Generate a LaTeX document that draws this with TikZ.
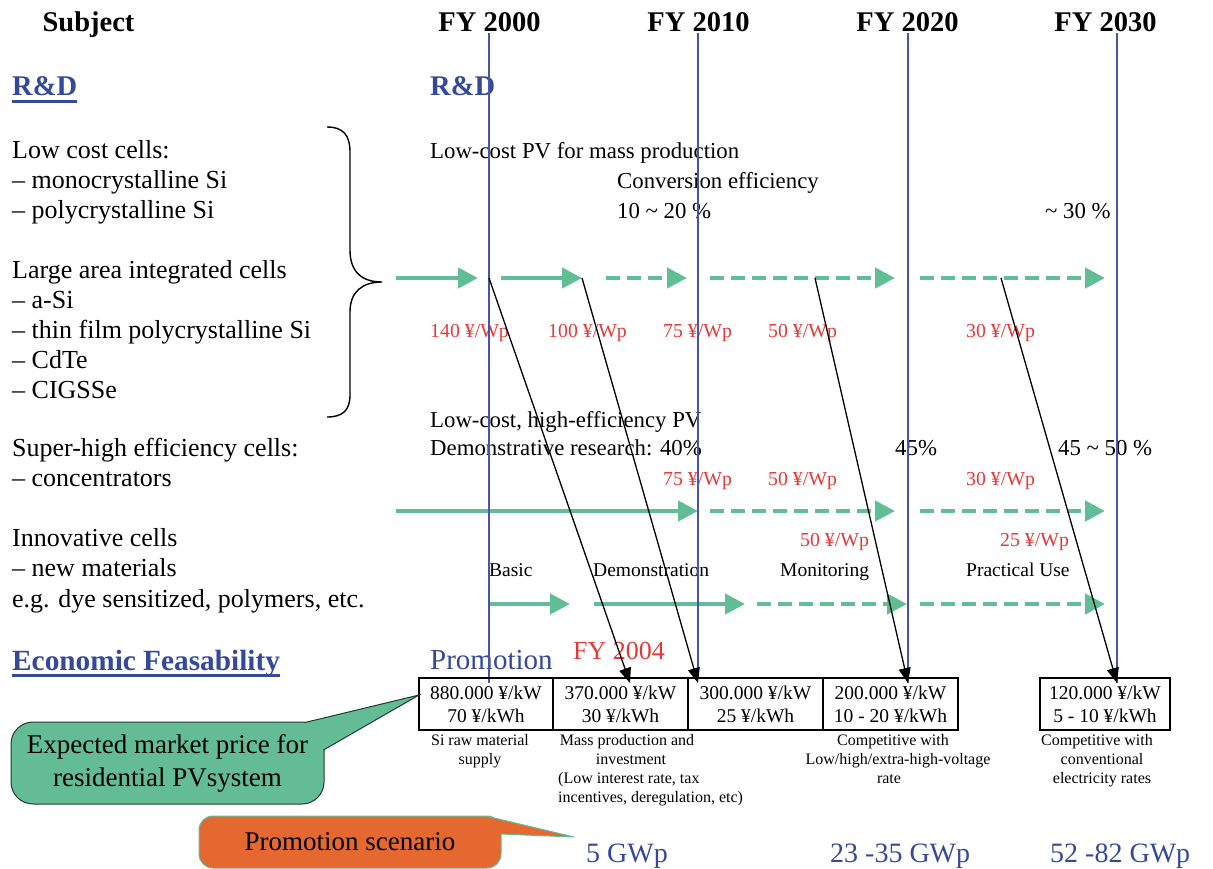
\documentclass[tikz,border=0pt]{standalone}
\usepackage{fontspec}
\setmainfont{Liberation Serif}
\usetikzlibrary{arrows.meta,calc}
\definecolor{grn}{RGB}{96,189,150}
\definecolor{redt}{RGB}{228,56,56}
\definecolor{bluet}{RGB}{52,72,156}
\definecolor{vline}{RGB}{72,84,168}
\definecolor{orng}{RGB}{228,104,48}
\definecolor{callgrn}{RGB}{100,188,150}
\definecolor{calledge}{RGB}{30,60,45}
\begin{document}
\begin{tikzpicture}[x=1pt,y=-1pt,
  txt/.style={inner sep=0pt, anchor=base west},
  lc/.style={txt, font=\fontsize{26}{30}\selectfont},
  mt/.style={txt, font=\fontsize{22.8}{27}\selectfont},
  rt/.style={txt, text=redt, font=\fontsize{19.8}{24}\selectfont},
  ph/.style={txt, font=\fontsize{19.5}{23}\selectfont},
  hd/.style={inner sep=0pt, anchor=base, font=\bfseries\fontsize{28.5}{33}\selectfont},
  hdl/.style={txt, text=bluet, font=\bfseries\fontsize{28.5}{33}\selectfont},
  dsc/.style={inner sep=0pt, anchor=base, font=\fontsize{16}{19}\selectfont},
  dscl/.style={dsc, anchor=base west},
  gw/.style={txt, text=bluet, font=\fontsize{28}{33}\selectfont},
  pbox/.style={draw, line width=1.2pt, minimum height=52pt, inner sep=0pt, align=center, font=\fontsize{19.5}{23}\selectfont},
  garrow/.style={draw=grn, line width=4.5pt, -{Triangle[length=20pt,width=20pt]}},
  gdash/.style={garrow, dash pattern=on 14pt off 7pt},
  karrow/.style={draw=black, line width=1.3pt, -{Triangle[length=15pt,width=12pt]}},
  vl/.style={draw=vline, line width=1.1pt},
  uline/.style={draw=bluet, line width=3pt},
  gbox/.style={fill=callgrn, draw=calledge, line width=1pt, rounded corners=22pt, minimum width=313pt, minimum height=82pt, inner sep=0pt, align=center, font=\fontsize{27}{33}\selectfont},
  obox/.style={fill=orng, draw=grn, line width=1pt, rounded corners=14pt, minimum width=302pt, minimum height=52pt, inner sep=0pt, align=center, font=\fontsize{27}{33}\selectfont}
]
\useasboundingbox (0,0) rectangle (1213,868);

% headers
\node[hd] (subj) at (88.5,31) {Subject};
\node[hd] (fy1) at (489.5,31) {FY 2000};
\node[hd] (fy2) at (698.5,31) {FY 2010};
\node[hd] (fy3) at (907.5,31) {FY 2020};
\node[hd] (fy4) at (1105.5,31) {FY 2030};

\node[hdl] (rd1) at (12,95) {R\&D};
\node[hdl] (rd2) at (430,95) {R\&D};
\draw[uline] ($(rd1.base west)+(0,6.5)$) -- ($(rd1.base east)+(0,6.5)$);
\node[hdl, font=\bfseries\fontsize{29.3}{34}\selectfont] (ef) at (12,670) {Economic Feasability};
\draw[uline] ($(ef.base west)+(0,5.5)$) -- ($(ef.base east)+(0,5.5)$);

% left column
\node[lc] (l1) at (12,158) {Low cost cells:};
\node[lc] (l2) at (12,188) {– monocrystalline Si};
\node[lc] (l3) at (12,218) {– polycrystalline Si};
\node[lc] (l4) at (12,278) {Large area integrated cells};
\node[lc] (l5) at (12,308) {– a-Si};
\node[lc] (l6) at (12,338) {– thin film polycrystalline Si};
\node[lc] (l7) at (12,368) {– CdTe};
\node[lc] (l8) at (12,398) {– CIGSSe};
\node[lc] (l9) at (12,456) {Super-high efficiency cells:};
\node[lc] (l10) at (12,486) {– concentrators};
\node[lc] (l11) at (12,546) {Innovative cells};
\node[lc] (l12) at (12,576) {– new materials};
\node[lc] (l13) at (12,607) {e.g. dye sensitized, polymers, etc.};

% brace
\draw[line width=1.4pt] (327,127) .. controls (343,127) and (350,135) .. (350,152) -- (350,250)
  .. controls (350,272) and (362,282) .. (382,282)
  .. controls (362,282) and (350,292) .. (350,312) -- (350,395)
  .. controls (350,410) and (343,417) .. (327,417);

% middle texts
\node[mt] (m1) at (430,158) {Low-cost PV for mass production};
\node[mt] (m2) at (617,188) {Conversion efficiency};
\node[mt] (m3) at (617,218) {10 \textasciitilde{} 20 \%};
\node[mt] (m4) at (1045,218) {\textasciitilde{} 30 \%};
\node[mt] (m5) at (430,427) {Low-cost, high-efficiency PV};
\node[mt] (m6) at (430,455) {Demonstrative research: 40\%};
\node[mt] (m7) at (895,455) {45\%};
\node[mt] (m8) at (1058,455) {45 \textasciitilde{} 50 \%};

% red prices
\node[rt] (r11) at (430,337) {140 ¥/Wp};
\node[rt] (r12) at (548,337) {100 ¥/Wp};
\node[rt] (r13) at (663,337) {75 ¥/Wp};
\node[rt] (r14) at (768,337) {50 ¥/Wp};
\node[rt] (r15) at (966,337) {30 ¥/Wp};
\node[rt] (r21) at (663,485) {75 ¥/Wp};
\node[rt] (r22) at (768,485) {50 ¥/Wp};
\node[rt] (r23) at (966,485) {30 ¥/Wp};
\node[rt] (r31) at (800,546) {50 ¥/Wp};
\node[rt] (r32) at (1000,546) {25 ¥/Wp};

% phases
\node[ph] (p1) at (489,576) {Basic};
\node[ph] (p2) at (593,576) {Demonstration};
\node[ph] (p3) at (780,576) {Monitoring};
\node[ph] (p4) at (966,576) {Practical Use};

% green arrows
\coordinate (a1s) at (396,278); \coordinate (a1e) at (478,278);
\coordinate (a2s) at (501,278); \coordinate (a2e) at (582,278);
\coordinate (a3s) at (606,278); \coordinate (a3e) at (687,278);
\coordinate (a4s) at (710,278); \coordinate (a4e) at (895,278);
\coordinate (a5s) at (920,278); \coordinate (a5e) at (1105,278);
\draw[garrow] (a1s) -- (a1e);
\draw[garrow] (a2s) -- (a2e);
\draw[gdash] (a3s) -- (a3e);
\draw[gdash] (a4s) -- (a4e);
\draw[gdash] (a5s) -- (a5e);
\coordinate (b1s) at (396,511); \coordinate (b1e) at (698,511);
\coordinate (b2s) at (710,511); \coordinate (b2e) at (895,511);
\coordinate (b3s) at (920,511); \coordinate (b3e) at (1105,511);
\draw[garrow] (b1s) -- (b1e);
\draw[gdash] (b2s) -- (b2e);
\draw[gdash] (b3s) -- (b3e);
\coordinate (c1s) at (489,604); \coordinate (c1e) at (570,604);
\coordinate (c2s) at (594,604); \coordinate (c2e) at (745,604);
\coordinate (c3s) at (757,604); \coordinate (c3e) at (907,604);
\coordinate (c4s) at (920,604); \coordinate (c4e) at (1105,604);
\draw[garrow] (c1s) -- (c1e);
\draw[garrow] (c2s) -- (c2e);
\draw[gdash] (c3s) -- (c3e);
\draw[gdash] (c4s) -- (c4e);

% promotion labels
\node[txt, text=bluet, font=\fontsize{29}{34}\selectfont] (promo) at (430,669) {Promotion};
\node[txt, text=redt, font=\fontsize{26}{31}\selectfont] (fy04) at (573,659) {FY 2004};

% vertical lines
\coordinate (v1t) at (489,33); \coordinate (v1b) at (489,683);
\coordinate (v2t) at (698,33); \coordinate (v2b) at (698,670);
\coordinate (v3t) at (908,33); \coordinate (v3b) at (908,683);
\coordinate (v4t) at (1117,33); \coordinate (v4b) at (1117,683);
\draw[vl] (v1t) -- (v1b);
\draw[vl] (v2t) -- (v2b);
\draw[vl] (v3t) -- (v3b);
\draw[vl] (v4t) -- (v4b);

% price boxes
\node[pbox, minimum width=134pt] (bx1) at (486,704) {880.000 ¥/kW\\70 ¥/kWh};
\node[pbox, minimum width=135pt] (bx2) at (620.5,704) {370.000 ¥/kW\\30 ¥/kWh};
\node[pbox, minimum width=135pt] (bx3) at (755.5,704) {300.000 ¥/kW\\25 ¥/kWh};
\node[pbox, minimum width=135pt] (bx4) at (890.5,704) {200.000 ¥/kW\\10 - 20 ¥/kWh};
\node[pbox, minimum width=130pt] (bx5) at (1105,704) {120.000 ¥/kW\\5 - 10 ¥/kWh};

% black arrows
\coordinate (k1s) at (489,278); \coordinate (k1e) at (630,683);
\coordinate (k2s) at (582,278); \coordinate (k2e) at (698,683);
\coordinate (k3s) at (815,278); \coordinate (k3e) at (908,683);
\coordinate (k4s) at (1001,278); \coordinate (k4e) at (1117,683);
\draw[karrow] (k1s) -- (k1e);
\draw[karrow] (k2s) -- (k2e);
\draw[karrow] (k3s) -- (k3e);
\draw[karrow] (k4s) -- (k4e);

% descriptions
\node[dsc] (d1a) at (480,745) {Si raw material};
\node[dsc] (d1b) at (480,764) {supply};
\node[dsc] (d2a) at (627,745) {Mass production and};
\node[dsc] (d2b) at (631,764) {investment};
\node[dscl] (d2c) at (558,783) {(Low interest rate, tax};
\node[dscl] (d2d) at (558,802) {incentives, deregulation, etc)};
\node[dsc] (d4a) at (893,745) {Competitive with};
\node[dsc] (d4b) at (898,764) {Low/high/extra-high-voltage};
\node[dsc] (d4c) at (889,783) {rate};
\node[dsc] (d5a) at (1097,745) {Competitive with};
\node[dsc] (d5b) at (1102,764) {conventional};
\node[dsc] (d5c) at (1102,783) {electricity rates};

% GWp
\node[gw] (g1) at (586,862) {5 GWp};
\node[gw] (g2) at (830,862) {23 -35 GWp};
\node[gw] (g3) at (1050,862) {52 -82 GWp};

% green callout
\node[gbox] (cg) at (167.5,763) {Expected market price for\\residential PVsystem};
\coordinate (cgt1) at (305,722.5);
\coordinate (cgtip) at (419,695);
\coordinate (cgt2) at (323.5,750);
\fill[callgrn] (cgt1) -- (cgtip) -- (cgt2) -- cycle;
\draw[draw=calledge, line width=1pt] (cgt1) -- (cgtip) -- (cgt2);

% orange callout
\node[obox] (co) at (350,842) {Promotion scenario};
\coordinate (co1) at (488,816.5);
\coordinate (cotip) at (574,837);
\coordinate (co2) at (501,834);
\fill[orng] (co1) -- (cotip) -- (co2) -- cycle;
\draw[draw=grn, line width=1pt] (co1) -- (cotip) -- (co2);
\end{tikzpicture}
\end{document}
